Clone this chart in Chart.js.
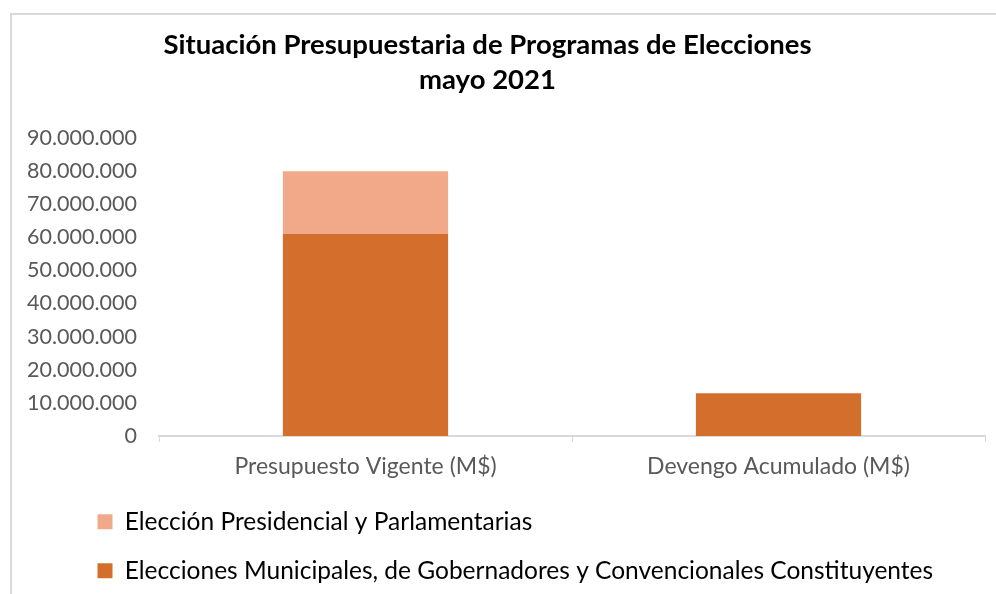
<!DOCTYPE html>
<html>
<head>
<meta charset="utf-8">
<script src="https://cdn.jsdelivr.net/npm/chart.js@4.4.1/dist/chart.umd.min.js"></script>
<style>
  html, body { margin: 0; padding: 0; background: #fff; overflow: hidden; }
  #frame { position: absolute; left: 10px; top: 13px; width: 1000px; height: 600px; border: 2px solid #d9d9d9; }
  #box { position: relative; width: 984px; height: 579px; }
</style>
</head>
<body>
<div id="frame"><div id="box"><canvas id="myChart"></canvas></div></div>
<script>
const categories = ['Presupuesto Vigente (M$)', 'Devengo Acumulado (M$)'];
const municipales = [61000000, 12900000];
const presidencial = [18900000, 0];
const seriesNames = ['Elecciones Municipales, de Gobernadores y Convencionales Constituyentes', 'Elección Presidencial y Parlamentarias'];
const titleLines = ['Situación Presupuestaria de Programas de Elecciones', 'mayo 2021'];

function fmt(v) {
    return String(v).replace(/\B(?=(\d{3})+(?!\d))/g, '.');
}

// nudge legend and title horizontally like the original
const shiftBoxes = {
    id: 'shiftBoxes',
    afterLayout(chart) {
        chart.legend.left += 61;
        chart.legend.right += 61;
        chart.titleBlock.left -= 11;
        chart.titleBlock.right -= 11;
    }
};

Chart.defaults.font.family = 'Lato, "Open Sans", sans-serif';

new Chart(document.getElementById('myChart'), {
    type: 'bar',
    data: {
        labels: categories,
        datasets: [
            {
                label: seriesNames[0],
                data: municipales,
                backgroundColor: '#D36E2C',
                barPercentage: 0.4,
                categoryPercentage: 1
            },
            {
                label: seriesNames[1],
                data: presidencial,
                backgroundColor: '#F1A98A',
                barPercentage: 0.4,
                categoryPercentage: 1
            }
        ]
    },
    options: {
        responsive: true,
        maintainAspectRatio: false,
        animation: false,
        layout: { padding: { left: 0, right: 11, top: 0, bottom: 1 } },
        plugins: {
            title: {
                display: true,
                text: titleLines,
                color: '#000',
                font: { size: 27.5, weight: 'bold', lineHeight: 1.27 },
                padding: { top: 12.5, bottom: 40.5 }
            },
            legend: {
                position: 'bottom',
                align: 'start',
                reverse: true,
                labels: {
                    color: '#000',
                    font: { size: 24.5 },
                    boxWidth: 15,
                    boxHeight: 15,
                    padding: 24.5
                }
            },
            tooltip: { enabled: false }
        },
        scales: {
            x: {
                stacked: true,
                grid: { display: true, drawOnChartArea: false, drawTicks: true, tickLength: 6, color: '#d9d9d9' },
                border: { display: true, color: '#d9d9d9', width: 2 },
                ticks: { color: '#595959', font: { size: 23 }, padding: 11 },
                afterFit: s => { s.height = 49; }
            },
            y: {
                stacked: true,
                min: 0,
                max: 90000000,
                grid: { display: false, drawTicks: false },
                border: { display: false },
                ticks: {
                    stepSize: 10000000,
                    color: '#595959',
                    font: { size: 21.5 },
                    padding: 22,
                    callback: v => fmt(v)
                },
                afterFit: s => { s.width = 147; }
            }
        }
    },
    plugins: [shiftBoxes]
});
</script>
</body>
</html>
